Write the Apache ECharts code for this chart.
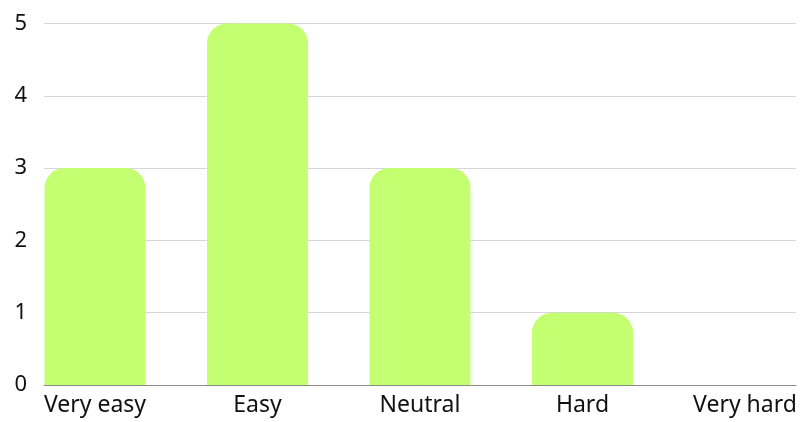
<!DOCTYPE html>
<html>
<head>
<meta charset="utf-8">
<script src="https://cdn.jsdelivr.net/npm/echarts@6/dist/echarts.min.js"></script>
<style>
  html, body { margin: 0; padding: 0; background: #fff; }
  #chart { width: 801px; height: 422px; }
</style>
</head>
<body>
<div id="chart"></div>
<script>
// answers to the difficulty question
var categories = ['Very easy', 'Easy', 'Neutral', 'Hard', 'Very hard'];
var counts = [3, 5, 3, 1, 0];
var yTicks = [0, 1, 2, 3, 4, 5];

var myChart = echarts.init(document.getElementById('chart'));

// x is a value axis so the first/last bars sit flush with the plot edges
var positions = categories.map(function (c, i) { return i; });
var barData = counts.map(function (v, i) { return [positions[i], v]; });

var option = {
  animation: false,
  grid: { left: 44, right: 5, top: 23.5, bottom: 37, containLabel: false },
  xAxis: {
    type: 'value',
    min: -0.314,
    max: positions.length - 1 + 0.314,
    axisLine: { show: true, onZero: false, lineStyle: { color: '#8c8c8c', width: 1 } },
    axisTick: { show: false },
    splitLine: { show: false },
    axisLabel: {
      customValues: positions,
      margin: 9,
      color: '#111',
      fontSize: 23,
      fontFamily: 'Noto Sans',
      formatter: function (v) { return categories[Math.round(v)]; }
    }
  },
  yAxis: {
    type: 'value',
    min: yTicks[0],
    max: yTicks[yTicks.length - 1],
    interval: 1,
    axisLine: { show: false },
    axisTick: { show: false },
    splitLine: { lineStyle: { color: '#d6d6d6', width: 1 } },
    axisLabel: {
      margin: 17,
      color: '#111',
      fontSize: 22,
      fontFamily: 'Noto Sans'
    }
  },
  series: [{
    type: 'bar',
    data: barData,
    barWidth: 101,
    clip: false,
    itemStyle: { color: '#c4ff72', borderRadius: [20, 20, 0, 0] }
  }]
};
option && myChart.setOption(option);
</script>
</body>
</html>
